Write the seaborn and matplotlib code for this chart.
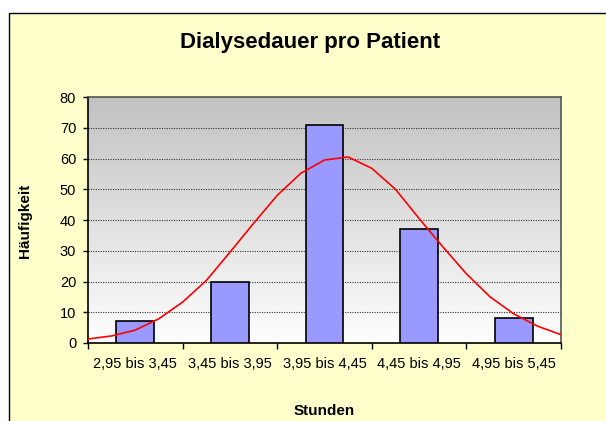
import numpy as np
import pandas as pd
import matplotlib
matplotlib.use('Agg')
import matplotlib.pyplot as plt
import seaborn as sns
from matplotlib.patches import Rectangle

## Data
categories = ['2,95 bis 3,45', '3,45 bis 3,95', '3,95 bis 4,45', '4,45 bis 4,95', '4,95 bis 5,45']
counts = [7, 20, 71, 37, 8]

# normal curve (polyline points, hours vs. frequency)
curve_hours = [2.95, 3.075, 3.2, 3.325, 3.45, 3.575, 3.7, 3.825, 3.95, 4.075, 4.2,
               4.325, 4.45, 4.575, 4.7, 4.825, 4.95, 5.075, 5.2, 5.325, 5.45]
curve_values = [1.3, 2.3, 4.2, 7.9, 13.3, 20.3, 29.5, 38.9, 48.0, 55.2, 59.5,
                60.5, 56.8, 50.0, 40.5, 31.3, 22.5, 15.0, 9.5, 5.5, 2.7]

yticks = [0, 10, 20, 30, 40, 50, 60, 70, 80]

df_bars = pd.DataFrame({'Klasse': categories, 'Anzahl': counts})
# map hours onto category positions (class width 0.5 h, first centre at 3.2 h)
df_curve = pd.DataFrame({'pos': [(h - 3.2) / 0.5 for h in curve_hours], 'wert': curve_values})

plt.rcParams['font.family'] = ['Liberation Sans', 'DejaVu Sans']

fig = plt.figure(figsize=(6.06, 4.21), dpi=100, facecolor='white')

# yellow chart area with black frame
frame = Rectangle((9 / 606, -0.1), 2, 1 - 13 / 421 + 0.1, transform=fig.transFigure,
                  facecolor='#FFFFCC', edgecolor='black', lw=1.0, zorder=-5)
fig.patches.append(frame)

ax = fig.add_axes([88 / 606, 1 - 343 / 421, 473 / 606, 246 / 421])
ax.set_zorder(1)
ax.set_facecolor('white')

# gray-to-white gradient in plot area
grad = np.linspace(0, 1, 256).reshape(-1, 1)
cmap_grad = matplotlib.colors.LinearSegmentedColormap.from_list('g', ['#C2C2C2', '#FEFEFE'])
ax.imshow(grad, extent=[0, 1, 0, 1], transform=ax.transAxes, cmap=cmap_grad,
          aspect='auto', zorder=0, origin='upper')

sns.barplot(data=df_bars, x='Klasse', y='Anzahl', color='#9999FF', saturation=1,
            width=0.4, edgecolor='black', linewidth=1.2, ax=ax, zorder=3)
sns.lineplot(data=df_curve, x='pos', y='wert', color='red', lw=1.2, ax=ax, zorder=4)

ax.set_xlim(-0.5, 4.5)
ax.set_ylim(0, 80)
ax.set_yticks(yticks)
for y in yticks[1:-1]:
    ax.axhline(y, color='#333333', ls=(0, (1, 1.2)), lw=0.8, zorder=1)

ax.set_xticks(range(len(categories)))
ax.set_xticklabels(categories, fontsize=10.5)
ax.set_xticks([i - 0.5 for i in range(len(categories) + 1)], minor=True)
ax.tick_params(axis='x', which='major', length=0, pad=10)
ax.tick_params(axis='x', which='minor', length=4, width=1, color='black', direction='out')
ax.tick_params(axis='y', length=3.5, width=1, direction='out', labelsize=10.5, pad=5)

for s in ['left', 'bottom']:
    ax.spines[s].set_color('black')
    ax.spines[s].set_linewidth(1.2)
for s in ['top', 'right']:
    ax.spines[s].set_color('#555555')
    ax.spines[s].set_linewidth(1.2)

ax.set_xlabel('')
ax.set_ylabel('')
fig.text(25 / 606, 1 - 221 / 421, 'Häufigkeit', rotation=90, fontsize=11, fontweight='bold',
         ha='center', va='center')
fig.text(324 / 606, 1 - 415 / 421, 'Stunden', fontsize=11, fontweight='bold',
         ha='center', va='baseline')
fig.text(310 / 606, 1 - 48 / 421, 'Dialysedauer pro Patient', fontsize=16, fontweight='bold',
         ha='center', va='baseline')

if ax.get_legend():
    ax.get_legend().remove()

fig.savefig('out.png', dpi=100, facecolor='white')
